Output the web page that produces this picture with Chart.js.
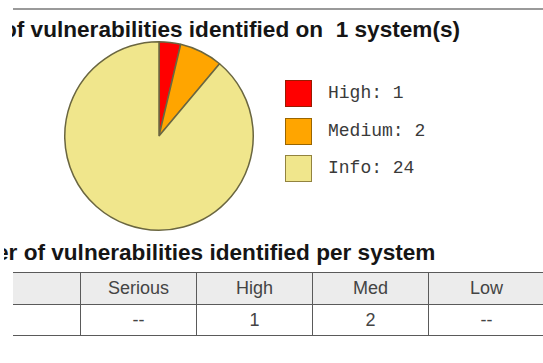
<!DOCTYPE html>
<html><head><meta charset="utf-8">
<script src="https://cdn.jsdelivr.net/npm/chart.js@4/dist/chart.umd.min.js"></script>
<style>
html,body{margin:0;padding:0;background:#fff;width:543px;height:363px;overflow:hidden;position:relative;font-family:"Liberation Sans",Arial,sans-serif;}
.rule{position:absolute;left:13px;top:8px;width:530px;height:0;border-top:2px solid #9a9a9a;}
.clip{position:absolute;overflow:hidden;white-space:pre;right:0;}
.h{position:relative;font-weight:bold;font-size:22.6px;color:#151515;line-height:26px;height:28px;}
#pieBox{position:absolute;left:62px;top:39px;width:194px;height:194px;}
#legend{position:absolute;left:285px;top:80px;}
.li{position:relative;height:37.5px;}
.sw{position:absolute;left:0;top:0;width:25px;height:25px;border:1px solid rgba(70,50,0,0.55);}
.lt{position:absolute;left:43px;top:0;line-height:27px;font-family:"Liberation Mono","Courier New",monospace;font-size:18px;color:#3a3a3a;white-space:pre;}
#tblWrap{position:absolute;left:13px;top:272px;width:530px;height:70px;overflow:hidden;}
table{position:absolute;left:-50px;top:0;border-collapse:collapse;table-layout:fixed;font-size:18px;color:#444;}
td,th{border:1px solid #5a5a5a;text-align:center;font-weight:normal;padding:0;overflow:hidden;white-space:nowrap;}
th{background:#ececec;height:31px;}
td{height:30px;}
</style></head>
<body>
<div class="rule"></div>
<div class="clip" style="left:12px;top:17px;"><div class="h" style="left:-9px;">of vulnerabilities identified on  1 system(s)</div></div>
<div class="clip" style="left:4px;top:240px;"><div class="h" style="left:-8px;">er of vulnerabilities identified per system</div></div>
<div id="pieBox"><canvas id="c"></canvas></div>
<div id="legend"></div>
<div id="tblWrap"><table id="tbl"></table></div>
<script>
// ---- data ----
const categories = ['High', 'Medium', 'Info'];
const counts = [1, 2, 24];
const tableHeaders = ['Serious', 'High', 'Med', 'Low'];
const tableValues = ['--', '1', '2', '--'];

// ---- styles ----
const sliceColors = ['#ff0000', '#ffa500', '#f0e68c'];

new Chart(document.getElementById('c'), {
  type: 'pie',
  data: {
    labels: categories,
    datasets: [{
      data: counts,
      backgroundColor: sliceColors,
      borderColor: '#6a6640',
      borderWidth: 1.5
    }]
  },
  options: {
    responsive: true,
    maintainAspectRatio: false,
    animation: false,
    layout: { padding: 2 },
    plugins: { legend: { display: false }, tooltip: { enabled: false } }
  }
});

// legend
const lg = document.getElementById('legend');
categories.forEach((c, i) => {
  const d = document.createElement('div');
  d.className = 'li';
  d.innerHTML = '<div class="sw" style="background:' + sliceColors[i] + '"></div><div class="lt"></div>';
  d.querySelector('.lt').textContent = c + ': ' + counts[i];
  lg.appendChild(d);
});

// table
const tbl = document.getElementById('tbl');
const cg = document.createElement('colgroup');
const widths = [117].concat(tableHeaders.map(() => 116)).concat([116]);
widths.forEach(w => { const col = document.createElement('col'); col.style.width = w + 'px'; cg.appendChild(col); });
tbl.appendChild(cg);
tbl.style.width = widths.reduce((a, b) => a + b, 0) + 'px';
const hr = document.createElement('tr');
['System'].concat(tableHeaders).concat(['Info']).forEach((t, i) => {
  const th = document.createElement('th');
  th.textContent = (i === 0 || i === tableHeaders.length + 1) ? '' : t;
  hr.appendChild(th);
});
tbl.appendChild(hr);
const dr = document.createElement('tr');
[''].concat(tableValues).concat(['']).forEach(t => {
  const td = document.createElement('td');
  td.textContent = t;
  dr.appendChild(td);
});
tbl.appendChild(dr);
</script>
</body></html>
